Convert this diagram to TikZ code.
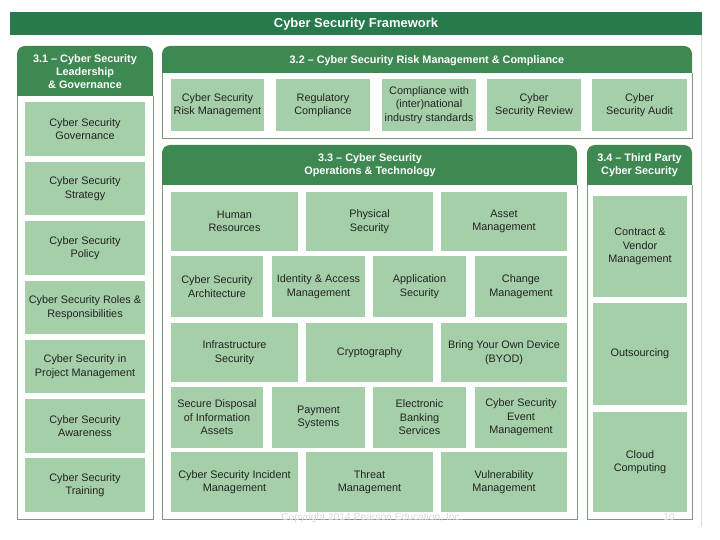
\documentclass[tikz,border=0pt]{standalone}
\usepackage{fontspec}
\setmainfont{Liberation Sans}
\definecolor{barG}{RGB}{38,122,76}
\definecolor{hdrG}{RGB}{62,136,82}
\definecolor{itemG}{RGB}{165,207,168}
\definecolor{bordG}{RGB}{125,152,130}
\definecolor{txtD}{RGB}{35,35,35}
\definecolor{copyG}{RGB}{218,218,218}
\tikzset{
  item/.style={fill=itemG, draw=none, inner sep=0pt, align=center, text=txtD,
    font=\fontsize{10.9}{13.6}\selectfont},
  hdrtext/.style={inner sep=0pt, align=center, text=white,
    font=\bfseries\fontsize{10.9}{12.8}\selectfont},
  panelborder/.style={draw=bordG, line width=0.9bp},
}
\newcommand\ibox[6]{%
  \node[item, minimum width={(#4-#2)*1bp}, minimum height={(#5-#3)*1bp}]
    (#1) at ({(#2+#4)/2},{(#3+#5)/2}) {#6};}
\newcommand\panel[5]{% x1 x2 top headerbottom bottom
  \fill[hdrG] (#1,#4) [rounded corners=8bp] -- (#1,#3) -- (#2,#3) [sharp corners] -- (#2,#4) -- cycle;
  \draw[panelborder] (#1,#4) -- (#1,#5) -- (#2,#5) -- (#2,#4);}
\begin{document}
\begin{tikzpicture}[x=1bp,y=-1bp]
\useasboundingbox (0,0) rectangle (720,540);
\fill[white] (0,0) rectangle (720,540);
% outer frame line
\draw[copyG, line width=0.8bp] (701.5,35) -- (701.5,527);
% title bar
\fill[barG] (10,12) rectangle (702,35);
\node[inner sep=0pt, text=white, font=\bfseries\fontsize{13}{14}\selectfont] (title) at (356,24) {Cyber Security Framework};

% panels
\panel{17}{153}{46}{96}{519}
\panel{162}{692}{46}{73}{138}
\panel{162}{577}{145}{185}{519}
\panel{587}{692}{145}{185}{519}

\node[hdrtext] (h1) at (85,71.5) {3.1 -- Cyber Security\\Leadership\\\& Governance};
\node[hdrtext] (h2) at (427,61) {3.2 -- Cyber Security Risk Management \& Compliance};
\node[hdrtext] (h3) at (370,165.5) {3.3 -- Cyber Security\\Operations \& Technology};
\node[hdrtext] (h4) at (639.5,165.5) {3.4 -- Third Party\\Cyber Security};

% 3.1 items
\ibox{gov}{25}{102}{145}{156}{Cyber Security\\Governance}
\ibox{str}{25}{162}{145}{215}{Cyber Security\\Strategy}
\ibox{pol}{25}{221}{145}{275}{Cyber Security\\Policy}
\ibox{rol}{25}{281}{145}{334}{Cyber Security Roles \&\\Responsibilities}
\ibox{prj}{25}{340}{145}{393}{Cyber Security in\\Project Management}
\ibox{awa}{25}{399}{145}{453}{Cyber Security\\Awareness}
\ibox{trn}{25}{458}{145}{512}{Cyber Security\\Training}

% 3.2 items
\ibox{rsk}{171}{79}{264}{131}{Cyber Security\\Risk Management}
\ibox{reg}{276}{79}{370}{131}{Regulatory\\Compliance}
\ibox{std}{382}{79}{476}{131}{Compliance with\\(inter)national\\industry standards}
\ibox{rev}{487}{79}{581}{131}{Cyber\\Security Review}
\ibox{aud}{592}{79}{687}{131}{Cyber\\Security Audit}

% 3.3 items
\ibox{hum}{171}{192}{298}{251}{Human\\Resources}
\ibox{phy}{306}{192}{433}{251}{Physical\\Security}
\ibox{ast}{441}{192}{567}{251}{Asset\\Management}

\ibox{arc}{171}{256}{263}{317}{Cyber Security\\Architecture}
\ibox{iam}{272}{256}{365}{317}{Identity \& Access\\Management}
\ibox{app}{373}{256}{466}{317}{Application\\Security}
\ibox{chg}{475}{256}{567}{317}{Change\\Management}

\ibox{inf}{171}{323}{298}{382}{Infrastructure\\Security}
\ibox{cry}{306}{323}{433}{382}{Cryptography}
\ibox{byo}{441}{323}{567}{382}{Bring Your Own Device\\(BYOD)}

\ibox{dis}{171}{387}{263}{448}{Secure Disposal\\of Information\\Assets}
\ibox{pay}{272}{387}{365}{448}{Payment\\Systems}
\ibox{ebs}{373}{387}{466}{448}{Electronic\\Banking\\Services}
\ibox{evt}{475}{387}{567}{448}{Cyber Security\\Event\\Management}

\ibox{inc}{171}{452}{298}{512}{Cyber Security Incident\\Management}
\ibox{thr}{306}{452}{433}{512}{Threat\\Management}
\ibox{vul}{441}{452}{567}{512}{Vulnerability\\Management}

% 3.4 items
\ibox{cvm}{593}{196}{687}{297}{Contract \&\\Vendor\\Management}
\ibox{out}{593}{303}{687}{405}{Outsourcing}
\ibox{cld}{593}{412}{687}{512}{Cloud\\Computing}

% footer
\node[inner sep=0pt, text=copyG, font=\fontsize{10.3}{12}\selectfont] (copy) at (372,517.5) {Copyright 2014 Pearson Education, Inc.};
\node[inner sep=0pt, text=copyG, font=\fontsize{10.3}{12}\selectfont] (pg) at (669,516.5) {10};
\end{tikzpicture}
\end{document}
